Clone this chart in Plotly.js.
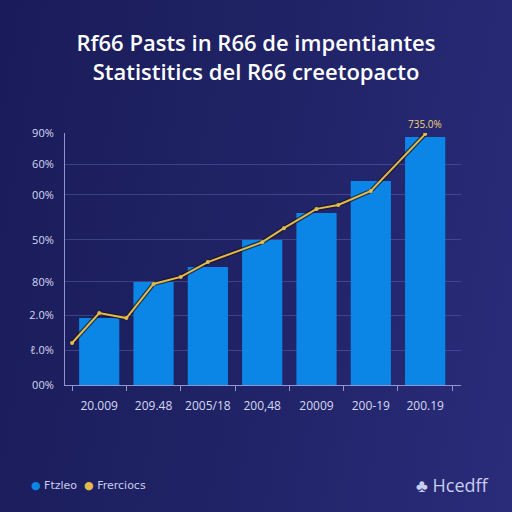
<!DOCTYPE html>
<html>
<head>
<meta charset="utf-8">
<script src="https://cdn.plot.ly/plotly-3.0.1.min.js"></script>
<style>
html,body{margin:0;padding:0;width:512px;height:512px;overflow:hidden;}
body{background:linear-gradient(100deg,#1a1c5a 0%,#1f2264 45%,#2a2c7a 100%);}
#chart{width:512px;height:512px;}
</style>
</head>
<body>
<div id="chart"></div>
<script>
// Data
const categories = ["20.009","209.48","2005/18","200,48","20009","200-19","200.19"];
const barValues = [23.9, 36.8, 42.1, 51.8, 61.4, 72.9, 88.6];
const lineX = [-0.5, 0, 0.5, 1, 1.5, 2, 3, 3.4, 4, 4.4, 5, 6];
const lineValues = [15, 25.7, 23.9, 36.1, 38.6, 43.9, 51, 56, 62.9, 64.3, 69.3, 89.6];
const yTickVals = [0, 12.5, 25, 36.8, 51.8, 67.9, 78.9, 90];
const yTickText = ["00%", "ℓ.0%", "2.0%", "80%", "50%", "00%", "60%", "90%"];
const peakLabel = "735.0%";
const legendNames = ["Ftzleo", "Frerciocs"];
const titleLines = ["Rf66 Pasts in R66 de impentiantes", "Statistitics del R66 creetopacto"];
const brand = "Hcedff";

const barColor = "#0b86e6";
const lineColor = "#e2bb4e";
const xIdx = categories.map((_, i) => i);

const traces = [
  {type:"bar", x:xIdx, y:barValues, marker:{color:barColor}, width:0.74, hoverinfo:"skip", name:legendNames[0]},
  {type:"scatter", mode:"lines", x:lineX, y:lineValues, line:{color:"rgba(30,22,25,0.7)", width:4.5}, hoverinfo:"skip", showlegend:false},
  {type:"scatter", mode:"lines+markers", x:lineX, y:lineValues, line:{color:lineColor, width:2}, marker:{color:lineColor, size:4}, hoverinfo:"skip", name:legendNames[1]}
];

const dot = c => "<span style='color:" + c + "'>●</span>";

const layout = {
  width:512, height:512,
  paper_bgcolor:"rgba(0,0,0,0)", plot_bgcolor:"rgba(0,0,0,0)",
  margin:{l:65, r:51, t:133, b:127},
  showlegend:false,
  bargap:0.26,
  title:{text:titleLines.join("<br>"), x:0.5, xanchor:"center", y:0.9, yanchor:"middle",
         font:{family:"Open Sans, sans-serif", size:22, color:"#ffffff", weight:600}},
  xaxis:{range:[-0.63, 6.66], tickmode:"array", tickvals:xIdx, ticktext:categories,
         showgrid:false, zeroline:false, showline:true, linecolor:"#8f95d0", linewidth:1,
         ticks:"", ticklabelstandoff:10, tickfont:{family:"Open Sans, sans-serif", size:12, color:"#d6d9f2"},
         minor:{tickmode:"linear", tick0:0.5, dtick:1, ticks:"outside", ticklen:5, tickcolor:"#8f95d0", showgrid:false}},
  yaxis:{range:[0, 90], tickmode:"array", tickvals:yTickVals, ticktext:yTickText,
         showgrid:true, gridcolor:"rgba(120,128,205,0.35)", gridwidth:1, zeroline:false,
         showline:true, linecolor:"#8f95d0", linewidth:1, ticks:"", ticklabelstandoff:8,
         tickfont:{family:"Open Sans, sans-serif", size:11, color:"#d6d9f2"}},
  annotations:[
    {x:lineX[lineX.length-1], y:lineValues[lineValues.length-1], xref:"x", yref:"y", text:peakLabel,
     showarrow:false, yshift:10, font:{family:"Open Sans, sans-serif", size:10, color:"#f0d27a"}},
    {xref:"paper", yref:"paper", x:-0.09, y:-0.397, xanchor:"left", yanchor:"middle", showarrow:false,
     text:dot(barColor)+" "+legendNames[0]+"  "+dot(lineColor)+" "+legendNames[1],
     font:{family:"DejaVu Sans, sans-serif", size:11, color:"#c9cdf0"}},
    {xref:"paper", yref:"paper", x:1.075, y:-0.397, xanchor:"right", yanchor:"middle", showarrow:false,
     text:"♣ "+brand, font:{family:"Open Sans, sans-serif", size:18, color:"#c9cdf0"}}
  ]
};

Plotly.newPlot("chart", traces, layout, {displayModeBar:false, staticPlot:true});
</script>
</body>
</html>
